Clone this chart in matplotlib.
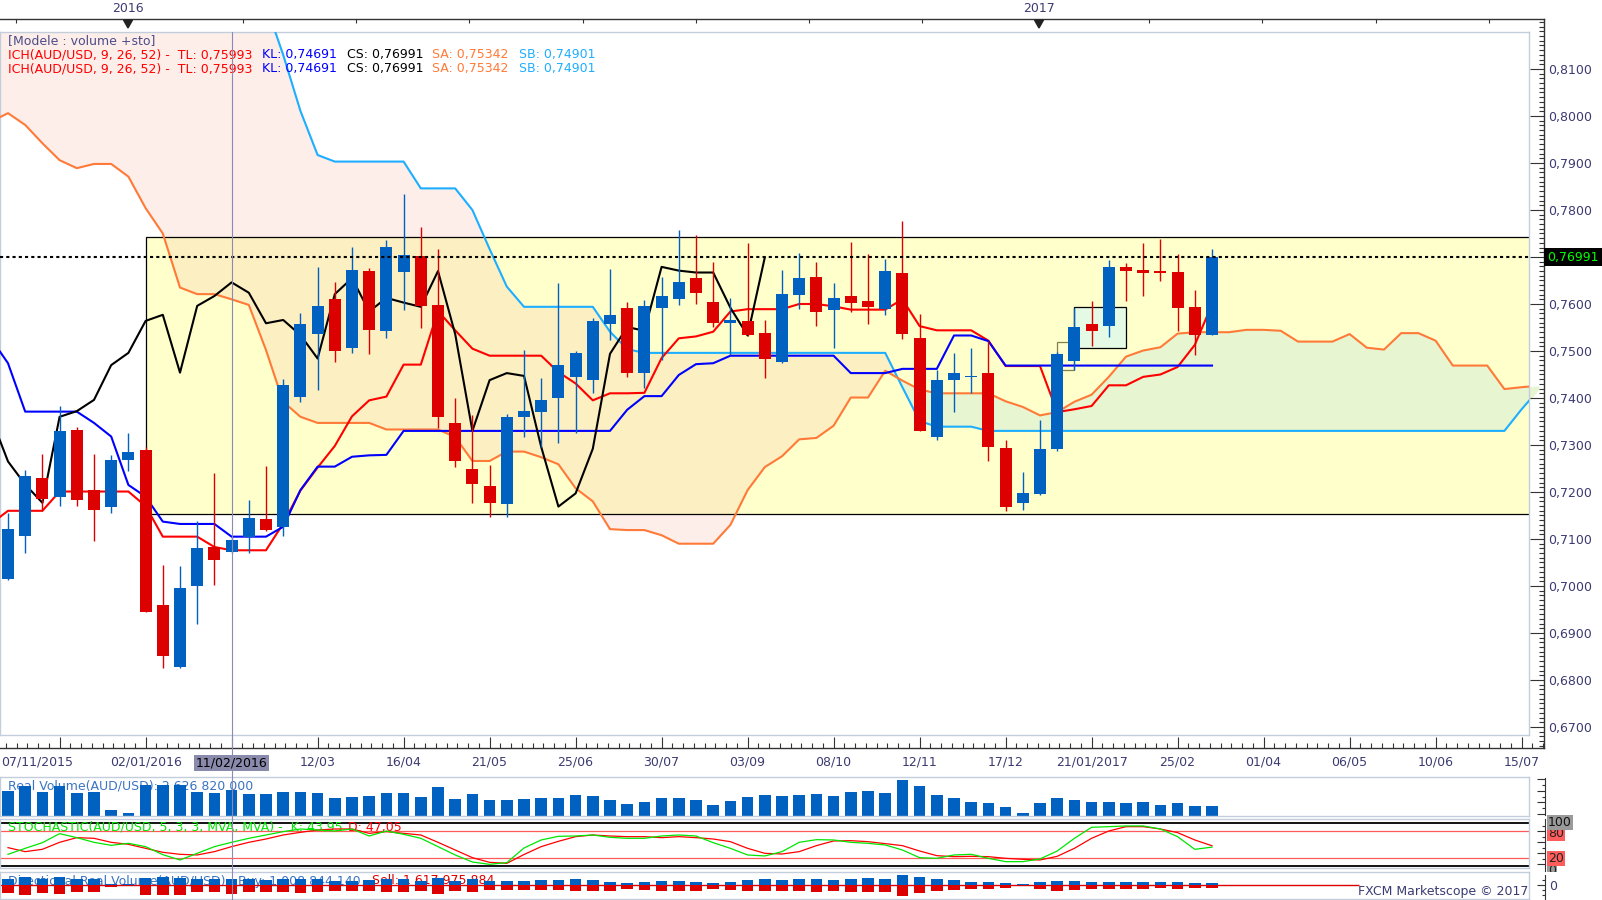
import numpy as np
import matplotlib
matplotlib.use("Agg")
import matplotlib.pyplot as plt
from matplotlib.patches import Rectangle, Polygon
from matplotlib.lines import Line2D
from matplotlib.transforms import blended_transform_factory
from matplotlib.ticker import FuncFormatter

# AUD/USD weekly candles, week 0 = 07/11/2015
opens = [0.7014, 0.7107, 0.7229, 0.7190, 0.7332, 0.7204, 0.7169, 0.7269, 0.7289, 0.6960,
         0.6828, 0.6999, 0.7082, 0.7073, 0.7104, 0.7143, 0.7126, 0.7403, 0.7536, 0.7611,
         0.7507, 0.7670, 0.7543, 0.7669, 0.7702, 0.7597, 0.7347, 0.7249, 0.7213, 0.7174,
         0.7360, 0.7371, 0.7401, 0.7445, 0.7438, 0.7558, 0.7592, 0.7454, 0.7592, 0.7610,
         0.7655, 0.7604, 0.7560, 0.7564, 0.7538, 0.7477, 0.7620, 0.7657, 0.7588, 0.7617,
         0.7606, 0.7589, 0.7666, 0.7528, 0.7318, 0.7438, 0.7445, 0.7453, 0.7294, 0.7177,
         0.7195, 0.7291, 0.7479, 0.7557, 0.7554, 0.7678, 0.7672, 0.7668, 0.7668, 0.7594,
         0.7533]
highs = [0.7155, 0.7247, 0.7281, 0.7383, 0.7339, 0.7281, 0.7279, 0.7325, 0.7296, 0.7045,
         0.7043, 0.7138, 0.7240, 0.7104, 0.7183, 0.7255, 0.7440, 0.7580, 0.7678, 0.7646,
         0.7721, 0.7676, 0.7736, 0.7834, 0.7763, 0.7716, 0.7399, 0.7364, 0.7257, 0.7365,
         0.7502, 0.7442, 0.7644, 0.7500, 0.7570, 0.7674, 0.7605, 0.7609, 0.7658, 0.7757,
         0.7747, 0.7690, 0.7612, 0.7729, 0.7566, 0.7672, 0.7709, 0.7689, 0.7644, 0.7732,
         0.7706, 0.7696, 0.7777, 0.7579, 0.7460, 0.7496, 0.7506, 0.7521, 0.7311, 0.7242,
         0.7353, 0.7498, 0.7592, 0.7606, 0.7694, 0.7687, 0.7730, 0.7738, 0.7706, 0.7630,
         0.7717]
lows = [0.7013, 0.7070, 0.7160, 0.7171, 0.7171, 0.7096, 0.7155, 0.7245, 0.6944, 0.6826,
        0.6826, 0.6919, 0.7002, 0.7070, 0.7070, 0.7118, 0.7107, 0.7392, 0.7416, 0.7477,
        0.7495, 0.7493, 0.7528, 0.7587, 0.7550, 0.7336, 0.7254, 0.7176, 0.7146, 0.7147,
        0.7316, 0.7296, 0.7304, 0.7325, 0.7410, 0.7523, 0.7444, 0.7421, 0.7481, 0.7598,
        0.7600, 0.7552, 0.7492, 0.7532, 0.7443, 0.7474, 0.7590, 0.7554, 0.7507, 0.7582,
        0.7557, 0.7577, 0.7526, 0.7329, 0.7311, 0.7371, 0.7411, 0.7267, 0.7160, 0.7162,
        0.7194, 0.7288, 0.7460, 0.7511, 0.7529, 0.7607, 0.7617, 0.7650, 0.7543, 0.7492,
        0.7533]
closes = [0.7121, 0.7234, 0.7186, 0.7330, 0.7182, 0.7162, 0.7268, 0.7285, 0.6945, 0.6852,
          0.6996, 0.7081, 0.7056, 0.7098, 0.7145, 0.7120, 0.7428, 0.7557, 0.7596, 0.7501,
          0.7672, 0.7545, 0.7721, 0.7704, 0.7596, 0.7360, 0.7265, 0.7216, 0.7177, 0.7360,
          0.7372, 0.7396, 0.7470, 0.7496, 0.7564, 0.7577, 0.7454, 0.7596, 0.7617, 0.7646,
          0.7624, 0.7559, 0.7566, 0.7534, 0.7484, 0.7621, 0.7655, 0.7584, 0.7613, 0.7603,
          0.7594, 0.7670, 0.7536, 0.7330, 0.7438, 0.7453, 0.7447, 0.7296, 0.7169, 0.7197,
          0.7292, 0.7494, 0.7551, 0.7543, 0.7679, 0.7671, 0.7667, 0.7667, 0.7592, 0.7533,
          0.76991]

# ichimoku lines, tenkan / kijun from week -1, senkou spans from week -1 to 89
tenkan = [0.7132, 0.7160, 0.7160, 0.7160, 0.7201, 0.7201, 0.7201, 0.7201, 0.7201, 0.7170,
          0.7105, 0.7105, 0.7105, 0.7083, 0.7076, 0.7076, 0.7076, 0.7133, 0.7203, 0.7252,
          0.7298, 0.7361, 0.7395, 0.7403, 0.7471, 0.7471, 0.7585, 0.7544, 0.7505, 0.7490,
          0.7490, 0.7490, 0.7490, 0.7455, 0.7431, 0.7395, 0.7410, 0.7410, 0.7411, 0.7485,
          0.7527, 0.7531, 0.7541, 0.7584, 0.7589, 0.7589, 0.7589, 0.7600, 0.7600, 0.7595,
          0.7588, 0.7588, 0.7588, 0.7610, 0.7553, 0.7544, 0.7544, 0.7544, 0.7522, 0.7468,
          0.7468, 0.7468, 0.7370, 0.7376, 0.7383, 0.7427, 0.7427, 0.7445, 0.7450, 0.7466,
          0.7513, 0.7599]
kijun = ([0.7527, 0.7474, 0.7371, 0.7371, 0.7371, 0.7371, 0.7347, 0.7318, 0.7215, 0.7190,
          0.7137, 0.7132, 0.7132, 0.7132, 0.7105, 0.7105, 0.7105, 0.7126, 0.7204, 0.7254,
          0.7254, 0.7275, 0.7278, 0.7279] + [0.7330] * 13
         + [0.7375, 0.7404, 0.7404, 0.7449, 0.7472, 0.7474] + [0.7490] * 7
         + [0.7453] * 3 + [0.7462] * 3 + [0.7533, 0.7533, 0.7521] + [0.7469] * 13)
senkou_a = [0.7988, 0.8006, 0.7981, 0.7942, 0.7906, 0.7889, 0.7898, 0.7898, 0.7871, 0.7804,
            0.7750, 0.7635, 0.7621, 0.7621, 0.7610, 0.7598, 0.7502, 0.7392, 0.7360, 0.7347,
            0.7347, 0.7347, 0.7347, 0.7333, 0.7333, 0.7333, 0.7333, 0.7317, 0.7266, 0.7266,
            0.7286, 0.7286, 0.7274, 0.7259, 0.7208, 0.7180, 0.7121, 0.7119, 0.7119, 0.7108,
            0.7090, 0.7090, 0.7090, 0.7130, 0.7204, 0.7253, 0.7276, 0.7312, 0.7315, 0.7341,
            0.7401, 0.7401, 0.7458, 0.7437, 0.7418, 0.7410, 0.7410, 0.7410, 0.7410, 0.7393,
            0.7381, 0.7363, 0.7370, 0.7392, 0.7407, 0.7445, 0.7488, 0.7501, 0.7508, 0.7537,
            0.7540, 0.7540, 0.7540, 0.7545, 0.7545, 0.7543, 0.7520, 0.7520, 0.7520, 0.7536,
            0.7507, 0.7503, 0.7538, 0.7538, 0.7522, 0.7469, 0.7469, 0.7469, 0.7419, 0.7423,
            0.7426]
senkou_b = ([0.8300] * 16 + [0.8236, 0.8130, 0.8011, 0.7917] + [0.7903] * 5 + [0.7846] * 3
            + [0.7800, 0.7717, 0.7637] + [0.7594] * 5 + [0.7541, 0.7504] + [0.7496] * 15
            + [0.7423, 0.7351] + [0.7339] * 3 + [0.7330] * 31 + [0.7376, 0.7418])

# volume in billions
volume = [2.52, 3.07, 2.42, 3.01, 2.32, 2.42, 0.57, 0.26, 3.14, 3.14,
          3.14, 2.42, 2.32, 2.63, 2.21, 2.21, 2.42, 2.42, 2.32, 1.80,
          1.91, 2.01, 2.32, 2.32, 1.91, 2.94, 1.70, 2.21, 1.60, 1.60,
          1.70, 1.80, 1.80, 2.11, 2.01, 1.60, 1.18, 1.39, 1.80, 1.80,
          1.60, 1.08, 1.49, 1.91, 2.11, 2.01, 2.11, 2.21, 2.01, 2.42,
          2.52, 2.32, 3.66, 3.04, 2.11, 1.80, 1.39, 1.29, 0.88, 0.26,
          1.29, 1.80, 1.60, 1.39, 1.39, 1.29, 1.39, 1.08, 1.29, 0.98,
          0.98]
buy_vol = [1.1, 1.4, 1.0, 1.4, 1.0, 1.1, 0.2, 0.1, 1.3, 1.4,
           1.3, 1.1, 1.0, 1.0, 1.0, 0.9, 1.1, 1.0, 1.0, 0.8,
           0.8, 0.9, 1.0, 1.0, 0.8, 1.3, 0.7, 1.0, 0.7, 0.7,
           0.8, 0.9, 0.9, 1.0, 0.9, 0.6, 0.4, 0.5, 0.7, 0.7,
           0.6, 0.4, 0.6, 0.9, 1.0, 0.9, 1.0, 1.0, 0.9, 1.1,
           1.2, 1.1, 1.7, 1.5, 1.0, 0.9, 0.6, 0.6, 0.4, 0.1,
           0.6, 0.8, 0.7, 0.6, 0.6, 0.6, 0.6, 0.5, 0.6, 0.4,
           0.4]
sell_vol = [1.4, 1.7, 1.4, 1.6, 1.3, 1.3, 0.4, 0.2, 1.8, 1.7,
            1.8, 1.3, 1.3, 1.6, 1.2, 1.3, 1.3, 1.4, 1.3, 1.0,
            1.1, 1.1, 1.3, 1.3, 1.1, 1.6, 1.0, 1.2, 0.9, 0.9,
            0.9, 0.9, 0.9, 1.1, 1.1, 1.0, 0.8, 0.9, 1.1, 1.1,
            1.0, 0.7, 0.9, 1.0, 1.1, 1.1, 1.1, 1.2, 1.1, 1.3,
            1.3, 1.2, 2.0, 1.5, 1.1, 0.9, 0.8, 0.7, 0.5, 0.2,
            0.7, 1.0, 0.9, 0.8, 0.8, 0.7, 0.8, 0.6, 0.7, 0.6,
            0.6]

stoch_k = [27.5, 41.2, 54.2, 74.9, 65.7, 55.0, 48.1, 52.7, 45.1, 26.7,
           14.5, 29.8, 45.1, 55.0, 64.2, 71.8, 79.5, 85.6, 83.3, 81.0,
           85.6, 69.5, 81.0, 73.4, 64.2, 45.1, 26.0, 9.9, 4.5, 8.4,
           42.0, 60.4, 68.8, 69.5, 71.8, 66.5, 64.2, 64.2, 69.5, 71.8,
           69.5, 54.2, 41.2, 26.0, 23.7, 33.6, 55.0, 61.1, 60.4, 55.0,
           52.7, 48.9, 37.4, 19.8, 18.3, 26.0, 27.5, 18.3, 10.7, 10.7,
           16.8, 35.1, 64.2, 89.4, 90.9, 92.5, 92.5, 85.6, 68.0, 38.9,
           44.0]
stoch_d = [42.8, 33.6, 39.0, 55.0, 65.7, 64.2, 55.0, 50.4, 41.2, 32.1,
           27.5, 26.0, 33.6, 45.1, 55.0, 62.6, 71.8, 77.9, 83.3, 85.6,
           85.6, 75.6, 79.5, 75.6, 71.8, 55.0, 37.4, 19.8, 9.1, 6.8,
           27.0, 45.1, 57.3, 68.0, 71.8, 69.5, 68.0, 68.0, 65.7, 68.0,
           65.7, 62.6, 56.5, 41.2, 29.8, 28.2, 33.6, 47.4, 58.1, 58.8,
           56.5, 52.0, 47.4, 35.1, 24.4, 22.1, 22.9, 22.1, 18.3, 16.0,
           14.5, 22.9, 41.2, 64.2, 81.0, 90.9, 90.9, 85.6, 77.2, 60.4,
           47.1]

# drawn zone and boxes (week, price)
zone_start, zone_low, zone_high = 8, 0.7153, 0.7743
small_box = (61.0, 0.7460, 62.0, 0.7519)
mint_box = (62.0, 0.7506, 65.0, 0.7593)
last_price = 0.76991
cursor_week = 13

date_labels = [(8, '02/01/2016'), (18, '12/03'), (23, '16/04'), (28, '21/05'), (33, '25/06'),
               (38, '30/07'), (43, '03/09'), (48, '08/10'), (53, '12/11'), (58, '17/12'),
               (63, '21/01/2017'), (68, '25/02'), (73, '01/04'), (78, '06/05'), (83, '10/06'),
               (88, '15/07')]

BLUE = '#0061c1'
RED = '#dd0000'
FRAME = '#c3cedd'
AXIS = '#333333'
TXT = '#3b3b72'
TL_C, KL_C, SA_C, SB_C = '#ff0000', '#0000ff', '#ff7a38', '#1eaeff'

plt.rcParams['font.family'] = 'DejaVu Sans'
plt.rcParams['font.size'] = 9

W, H = 1602, 900
fig = plt.figure(figsize=(W / 100, H / 100), dpi=100)
fig.patch.set_facecolor('white')


def add_ax(x0, x1, y0, y1):
    return fig.add_axes([x0 / W, 1 - y1 / H, (x1 - x0) / W, (y1 - y0) / H])


def fpos(x, y):
    return x / W, 1 - y / H


def idx_at(x):
    return (x - 8) / 17.2


def price_at(y):
    return 0.77 + (257 - y) / 4700


def bare(a):
    a.set_xticks([])
    a.set_yticks([])
    for s in a.spines.values():
        s.set_color(FRAME)
        s.set_linewidth(1.0)


def overlay(x1, y0, y1):
    a = add_ax(0, x1, y0, y1)
    a.set_facecolor('none')
    for k in ('left', 'top', 'bottom'):
        a.spines[k].set_visible(False)
    a.spines['right'].set_color(AXIS)
    a.set_xticks([])
    a.yaxis.tick_right()
    return a


def finish_overlay(a, x1, y0, y1):
    a.set_xlim(idx_at(0), idx_at(x1))
    a.set_ylim(y1, y0)


weeks = np.arange(len(closes))
o, h, l, c = (np.array(v) for v in (opens, highs, lows, closes))
sa, sb = np.array(senkou_a), np.array(senkou_b)
span_x = np.arange(-1, len(sa) - 1)
line_x = np.arange(-1, len(tenkan) - 1)

# ---- main price panel
ax = add_ax(0, 1529, 32, 735)
bare(ax)
ax.set_xlim(idx_at(0), idx_at(1529))
ax.set_ylim(price_at(735), price_at(32))

zone = Rectangle((zone_start, zone_low), 200, zone_high - zone_low, fc='#ffffcc', ec='none', zorder=1)
ax.add_patch(zone)
ax.add_patch(Rectangle((zone_start, zone_low), 200, zone_high - zone_low, fill=False,
                       ec='black', lw=0.9, zorder=2.2))

ax.fill_between(span_x, sa, sb, where=sb >= sa, interpolate=True, color='#fdeeea', lw=0, zorder=0.5)
tan = ax.fill_between(span_x, sa, sb, where=sb >= sa, interpolate=True, color='#fcefc2', lw=0, zorder=1.5)
tan.set_clip_path(zone)
grn = ax.fill_between(span_x, sa, sb, where=sa > sb, interpolate=True, color='#e7f5d0', lw=0, zorder=1.5)
grn.set_clip_path(zone)

x0, y0, x1, y1 = small_box
ax.add_patch(Rectangle((x0, y0), x1 - x0, y1 - y0, fc='#fdfdd2', ec='#80804a', lw=0.9, zorder=2.5))
x0, y0, x1, y1 = mint_box
ax.add_patch(Rectangle((x0, y0), x1 - x0, y1 - y0, fc='#e4fae4', ec='black', lw=0.9, zorder=2.5))

ax.plot(span_x, sb, color=SB_C, lw=1.5, zorder=3)
ax.plot(span_x, sa, color=SA_C, lw=1.5, zorder=3)
ax.plot(line_x, tenkan, color=TL_C, lw=1.5, zorder=3.1)
ax.plot(line_x, kijun, color=KL_C, lw=1.5, zorder=3.2)
# lagging span: closes drawn 26 weeks back
ax.plot(np.arange(-1, len(closes) - 26), c[25:], color='black', lw=1.5, zorder=3.3)

col = np.where(c >= o, BLUE, RED)
ax.vlines(weeks, l, h, colors=col, lw=1.0, zorder=4)
ax.bar(weeks, np.maximum(np.abs(c - o), 0.00022), bottom=np.minimum(o, c), width=0.7,
       color=col, lw=0, zorder=4.1)

ax.axhline(last_price, color='black', lw=1.5, ls=(0, (1.5, 1.5)), zorder=5)
ax.set_xlim(idx_at(0), idx_at(1529))
ax.set_ylim(price_at(735), price_at(32))

# price axis, date axis, top strip
axo = add_ax(0, 1544, 19, 748)
axo.set_facecolor('none')
axo.spines['left'].set_visible(False)
for k in ('top', 'right', 'bottom'):
    axo.spines[k].set_color(AXIS)
    axo.spines[k].set_linewidth(1.0)
axo.yaxis.tick_right()
axo.set_yticks(np.arange(0.67, 0.8101, 0.01))
axo.set_yticks(np.arange(0.666, 0.8205, 0.001), minor=True)
axo.yaxis.set_major_formatter(FuncFormatter(
    lambda v, p: '' if abs(v - 0.77) < 1e-6 else f'{v:.4f}'.replace('.', ',')))
axo.tick_params(axis='y', which='major', direction='in', length=10, width=0.8, color=AXIS,
                labelcolor=TXT, labelsize=9, pad=3)
axo.tick_params(axis='y', which='minor', direction='in', length=3.6, width=0.8, color=AXIS)
axo.set_xticks(np.arange(3, 89, 5))
axo.set_xticks(np.arange(-2, 89.3, 5 / 8), minor=True)
axo.tick_params(axis='x', which='major', direction='in', length=8, width=0.8, color=AXIS,
                labelbottom=False)
axo.tick_params(axis='x', which='minor', direction='in', length=3.6, width=0.8, color=AXIS)
axo.set_xlim(idx_at(0), idx_at(1544))
axo.set_ylim(price_at(748), price_at(19))
axo.vlines(idx_at(16 + 113.3 * np.arange(14)), 1 - 4 / 729, 1,
           transform=axo.get_xaxis_transform(), colors=AXIS, lw=0.8, clip_on=False)
axo.set_xlim(idx_at(0), idx_at(1544))

for xp, yr in ((128, '2016'), (1039, '2017')):
    fig.text(*fpos(xp, 9), yr, ha='center', va='center', color=TXT)
    fig.add_artist(Polygon([fpos(xp - 4.5, 20), fpos(xp + 4.5, 20), fpos(xp, 28)],
                           closed=True, transform=fig.transFigure, color='#222222'))

for wk, lab in date_labels:
    fig.text(*fpos(8 + 17.2 * wk, 762), lab, ha='center', va='center', color=TXT)
fig.text(*fpos(1, 762), '07/11/2015', ha='left', va='center', color=TXT)
fig.text(*fpos(8 + 17.2 * cursor_week, 763), '11/02/2016', ha='center', va='center',
         color='black', zorder=6,
         bbox=dict(boxstyle='square,pad=0.15', fc='#8a8aac', ec='none'))

# legend
fig.text(*fpos(8, 41), '[Modele : volume +sto]', va='center', color='#4c4c88')
for yy in (54.5, 68.5):
    for xp, s, cc in ((8, 'ICH(AUD/USD, 9, 26, 52) -  TL: 0,75993', TL_C), (262, 'KL: 0,74691', KL_C),
                      (347, 'CS: 0,76991', 'black'), (432, 'SA: 0,75342', SA_C),
                      (519, 'SB: 0,74901', SB_C)):
        fig.text(*fpos(xp, yy), s, va='center', color=cc)

# last price tag
fig.add_artist(Rectangle(fpos(1544, 266), 58 / W, 18 / H, transform=fig.transFigure,
                         fc='black', ec='none', zorder=5))
fig.text(*fpos(1547, 257), '0,76991', va='center', color='#00ff00', zorder=6)

# ---- volume panel
axv = add_ax(0, 1529, 777.3, 815.7)
bare(axv)
axv.bar(weeks, volume, width=0.67, color=BLUE, lw=0, zorder=2)
axv.set_xlim(idx_at(0), idx_at(1529))
axv.set_ylim(-0.2 * 0.103, 38.2 * 0.103)
axv.text(*fpos(8, 786), 'Real Volume(AUD/USD): 2 626 820 000', transform=fig.transFigure,
         va='center', color='#3a74c4', zorder=1)
avo = overlay(1545, 777.5, 815.3)
avo.set_yticks([779, 790.7, 802.3, 813.8])
avo.set_yticks([784.8, 796.5, 808], minor=True)
avo.tick_params(axis='y', which='major', direction='in', length=6, width=0.8, color=AXIS, labelright=False)
avo.tick_params(axis='y', which='minor', direction='in', length=2.5, width=0.8, color=AXIS)
finish_overlay(avo, 1545, 777.5, 815.3)

# ---- stochastic panel
axs = add_ax(0, 1529, 819.3, 868.3)
bare(axs)
for lv, cc, lw in ((100, 'black', 1.3), (0, 'black', 1.3), (80, '#ff5a5a', 0.9), (20, '#ff5a5a', 0.9)):
    axs.axhline(lv, color=cc, lw=lw, zorder=1.5)
axs.plot(weeks, stoch_d, color='#ff0000', lw=0.9, zorder=3)
axs.plot(weeks, stoch_k, color='#00e600', lw=0.9, zorder=3.1)
axs.set_xlim(idx_at(0), idx_at(1529))
axs.set_ylim((866.3 - 868.3) / 0.436, (866.3 - 819.3) / 0.436)
axs.text(*fpos(8, 827.5), 'STOCHASTIC(AUD/USD, 5, 3, 3, MVA, MVA) -  K: 43,95', transform=fig.transFigure,
         va='center', color='#00e600', zorder=2)
axs.text(*fpos(348, 827.5), 'D: 47,05', transform=fig.transFigure, va='center', color='#ff0000', zorder=2)
aso = overlay(1545, 819, 871)
aso.set_yticks([831.3, 842.3, 853.3, 864.3])
aso.set_yticks([826, 836.7, 847.7, 858.7], minor=True)
aso.tick_params(axis='y', which='major', direction='in', length=6, width=0.8, color=AXIS, labelright=False)
aso.tick_params(axis='y', which='minor', direction='in', length=2.5, width=0.8, color=AXIS)
finish_overlay(aso, 1545, 819, 871)
fig.text(*fpos(1548, 870), '0', va='center', color='#222222', zorder=5,
         bbox=dict(boxstyle='square,pad=0.1', fc='#9a9a9a', ec='none'))
fig.add_artist(Rectangle(fpos(1547, 878), 30 / W, 6.5 / H, transform=fig.transFigure,
                         fc='white', ec='none', zorder=5.5))
fig.text(*fpos(1548, 858.3), '20', va='center', color='#222222', zorder=5,
         bbox=dict(boxstyle='square,pad=0.1', fc='#ff5c5c', ec='none'))
fig.text(*fpos(1548, 833.5), '80', va='center', color='#222222', zorder=5,
         bbox=dict(boxstyle='square,pad=0.1', fc='#ff5c5c', ec='none'))
fig.text(*fpos(1548, 822.7), '100', va='center', color='#111111', zorder=6,
         bbox=dict(boxstyle='square,pad=0.1', fc='#9a9a9a', ec='none'))

# ---- directional volume panel
axd = add_ax(0, 1529, 872.3, 899)
bare(axd)
axd.bar(weeks, buy_vol, width=0.67, color=BLUE, lw=0, zorder=2)
axd.bar(weeks, -np.array(sell_vol), width=0.67, color=RED, lw=0, zorder=2)
axd.hlines(0, idx_at(0), idx_at(1359), colors=RED, lw=1.0, zorder=1.8)
axd.set_xlim(idx_at(0), idx_at(1529))
axd.set_ylim((885 - 899) / 5.6, (885 - 872.3) / 5.6)
axd.text(*fpos(8, 881), 'Directional Real Volume(AUD/USD) - Buy: 1 008 844 140 - ',
         transform=fig.transFigure, va='center', color='#3a74c4', zorder=1)
axd.text(*fpos(372, 881), 'Sell: 1 617 975 884', transform=fig.transFigure, va='center',
         color=RED, zorder=1)
ado = overlay(1545, 875, 900)
ado.set_yticks([885])
ado.set_yticklabels(['0'])
ado.set_yticks([880, 890, 895], minor=True)
ado.tick_params(axis='y', which='major', direction='in', length=6, width=0.8, color=AXIS,
                labelcolor=TXT, labelsize=9, pad=3)
ado.tick_params(axis='y', which='minor', direction='in', length=2.5, width=0.8, color=AXIS)
finish_overlay(ado, 1545, 875, 900)

fig.text(*fpos(1528, 892), 'FXCM Marketscope © 2017', ha='right', va='center', color=TXT, zorder=4)

# cursor line through all panels
fig.add_artist(Line2D([fpos(8 + 17.2 * cursor_week, 0)[0]] * 2, [fpos(0, 32)[1], fpos(0, 900)[1]],
                      transform=fig.transFigure, color='#8a8ab4', lw=0.8, zorder=3.5))

fig.savefig('out.png', dpi=100, facecolor='white')
